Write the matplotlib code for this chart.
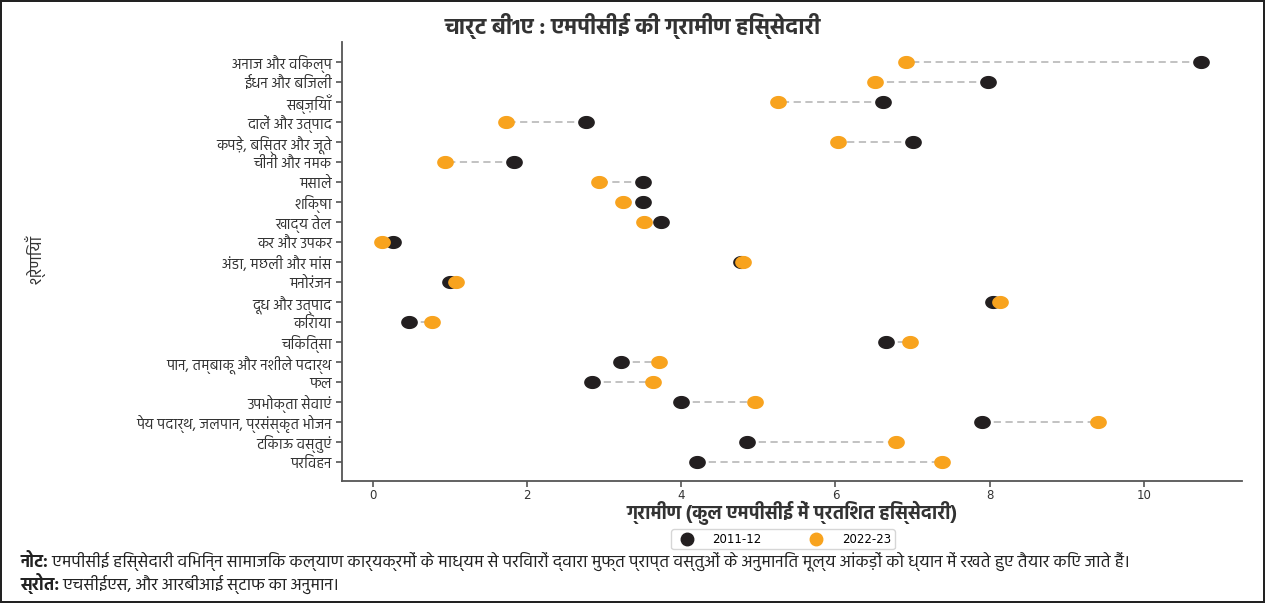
import matplotlib
matplotlib.use("Agg")
import matplotlib.pyplot as plt
from matplotlib.lines import Line2D
from matplotlib.path import Path
import numpy as np

CATEGORIES = [
    "अनाज और विकल्प",
    "ईंधन और बिजली",
    "सब्ज़ियाँ",
    "दालें और उत्पाद",
    "कपड़े, बिस्तर और जूते",
    "चीनी और नमक",
    "मसाले",
    "शिक्षा",
    "खाद्य तेल",
    "कर और उपकर",
    "अंडा, मछली और मांस",
    "मनोरंजन",
    "दूध और उत्पाद",
    "किराया",
    "चिकित्सा",
    "पान, तम्बाकू और नशीले पदार्थ",
    "फल",
    "उपभोक्ता सेवाएं",
    "पेय पदार्थ, जलपान, प्रसंस्कृत भोजन",
    "टिकाऊ वस्तुएं",
    "परिवहन",
]
SHARE_2011 = [10.75, 7.98, 6.62, 2.76, 7.01, 1.83, 3.50, 3.50, 3.74, 0.26, 4.77,
              1.00, 8.04, 0.46, 6.65, 3.22, 2.84, 3.99, 7.90, 4.85, 4.20]
SHARE_2022 = [6.92, 6.52, 5.26, 1.73, 6.03, 0.93, 2.93, 3.24, 3.52, 0.12, 4.80,
              1.07, 8.14, 0.76, 6.97, 3.71, 3.63, 4.96, 9.41, 6.79, 7.38]
YEARS = ["2011-12", "2022-23"]
X_TICKS = [0, 2, 4, 6, 8, 10]

TITLE = "चार्ट बी1ए : एमपीसीई की ग्रामीण हिस्सेदारी"
X_LABEL = "ग्रामीण (कुल एमपीसीई में प्रतिशत हिस्सेदारी)"
Y_LABEL = "श्रेणियाँ"
NOTE_HEAD = "नोट:"
NOTE_BODY = (" एमपीसीई हिस्सेदारी विभिन्न सामाजिक कल्याण कार्यक्रमों के माध्यम से परिवारों द्वारा"
             " मुफ्त प्राप्त वस्तुओं के अनुमानित मूल्य आंकड़ों को ध्यान में रखते हुए तैयार किए जाते हैं।")
SOURCE_HEAD = "स्रोत:"
SOURCE_BODY = " एचसीईएस, और आरबीआई स्टाफ का अनुमान।"

DEV_FONT = ["Hind", "Noto Sans Devanagari", "DejaVu Sans"]
BLACK = "#231f20"
ORANGE = "#f8a31e"

plt.rcParams["font.family"] = DEV_FONT

# slightly wide circle, like the reference markers
t = np.linspace(0, 2 * np.pi, 60)
DOT = Path(np.column_stack([1.3 * np.cos(t), np.sin(t)]), closed=True)

fig = plt.figure(figsize=(12.65, 6.03), dpi=100, edgecolor="#222222", linewidth=1.5)
ax = fig.add_axes([0.270, 0.202, 0.712, 0.728])

for cat, a, b in zip(CATEGORIES, SHARE_2011, SHARE_2022):
    ax.plot([a, b], [cat, cat], color="#bdbdbd", linestyle=(0, (4, 2.5)), linewidth=1.3, zorder=1)
ax.plot(SHARE_2011, CATEGORIES, linestyle="none", marker=DOT, markersize=11,
        color=BLACK, zorder=3)
ax.plot(SHARE_2022, CATEGORIES, linestyle="none", marker=DOT, markersize=11,
        color=ORANGE, zorder=4)

ax.set_xlim(-0.41, 11.28)
ax.set_ylim(20.95, -1.0)
ax.set_xticks(X_TICKS)
ax.set_xticklabels([str(v) for v in X_TICKS], fontfamily="DejaVu Sans", fontsize=8.5,
                   color="#333333")
ax.tick_params(axis="both", length=4, width=1.2, color="#555555")
ax.tick_params(axis="x", pad=1.5)
ax.tick_params(axis="y", labelsize=10.5, labelcolor="#333333", pad=3)
for side in ("top", "right"):
    ax.spines[side].set_visible(False)
for side in ("left", "bottom"):
    ax.spines[side].set_color("#555555")
    ax.spines[side].set_linewidth(1.3)

ax.set_xlabel(X_LABEL, fontsize=13.5, fontweight="bold", color="#333333", labelpad=-1)
fig.text(0.028, 0.57, Y_LABEL, rotation=90, fontsize=12, color="#333333",
         ha="center", va="center")
fig.text(0.5, 0.957, TITLE, fontsize=16, fontweight="bold", color="#333333",
         ha="center", va="center")

handles = [Line2D([], [], linestyle="none", marker="o", markersize=9, color=c)
           for c in (BLACK, ORANGE)]
fig.legend(handles, YEARS, loc="upper center", bbox_to_anchor=(0.619, 0.132), ncol=2,
           frameon=True, edgecolor="#cccccc", handletextpad=1.2, columnspacing=3.6,
           borderpad=0.3, prop={"family": "DejaVu Sans", "size": 8.5})

fig.canvas.draw()
renderer = fig.canvas.get_renderer()
for y, head, body in ((0.060, NOTE_HEAD, NOTE_BODY), (0.022, SOURCE_HEAD, SOURCE_BODY)):
    h = fig.text(0.016, y, head, fontsize=12.3, fontweight="bold", color="#222222",
                 va="baseline")
    bb = h.get_window_extent(renderer)
    fig.text(bb.x1 / fig.bbox.width, y, body, fontsize=12.3, color="#222222", va="baseline")

fig.savefig("out.png", dpi=100)
